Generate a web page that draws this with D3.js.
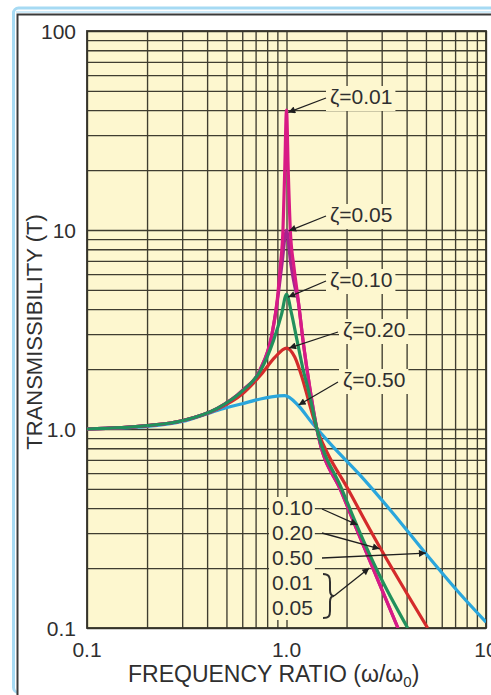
<!DOCTYPE html>
<html>
<head>
<meta charset="utf-8">
<script src="https://cdn.jsdelivr.net/npm/d3@7"></script>
<style>
  html, body { margin: 0; padding: 0; background: #ffffff; }
  svg { display: block; }
  text { font-family: "Liberation Sans", Arial, Helvetica, sans-serif; fill: #2f2f2f; }
</style>
</head>
<body>
<svg id="chart" width="491" height="695"></svg>
<script>
// Transmissibility curves: [frequency ratio ω/ω0, transmissibility T]
const dampingValues = ["0.01", "0.05", "0.10", "0.20", "0.50"];
const dampingLabels = ["ζ=0.01", "ζ=0.05", "ζ=0.10", "ζ=0.20", "ζ=0.50"];

const zeta001 = [[0.1, 1.0], [0.2, 1.04], [0.3, 1.1], [0.45, 1.27], [0.6, 1.56], [0.74, 2.0],
  [0.84, 2.9], [0.9, 4.5], [0.93, 6.5], [0.96, 10], [0.98, 20], [1.0, 40], [1.02, 20],
  [1.045, 10], [1.09, 6.5], [1.14, 4.6], [1.21, 2.78], [1.31, 1.6], [1.42, 1.0],
  [1.89, 0.48], [2.29, 0.3], [2.9, 0.17], [3.62, 0.1]];
const zeta005 = [[0.1, 1.0], [0.2, 1.04], [0.3, 1.1], [0.45, 1.27], [0.6, 1.56], [0.74, 2.0],
  [0.84, 2.9], [0.9, 4.4], [0.95, 6.8], [1.0, 10], [1.05, 6.8], [1.1, 5.2], [1.14, 4.5],
  [1.21, 2.78], [1.31, 1.6], [1.42, 1.0], [1.89, 0.48], [2.29, 0.3], [2.9, 0.17], [3.62, 0.1]];
const zeta010 = [[0.1, 1.0], [0.2, 1.04], [0.3, 1.1], [0.45, 1.27], [0.6, 1.55], [0.74, 1.96],
  [0.86, 2.78], [0.945, 3.78], [1.0, 4.75], [1.06, 3.8], [1.13, 2.78], [1.21, 2.0],
  [1.29, 1.56], [1.42, 1.0], [1.89, 0.5], [2.29, 0.315], [2.88, 0.19], [4.05, 0.1]];
const zeta020 = [[0.1, 1.0], [0.2, 1.04], [0.3, 1.1], [0.45, 1.26], [0.6, 1.5], [0.75, 1.89],
  [0.874, 2.29], [1.0, 2.55], [1.1, 2.3], [1.2, 1.8], [1.3, 1.35], [1.42, 1.0], [1.6, 0.76],
  [2.0, 0.514], [2.5, 0.34], [3.0, 0.245], [4.0, 0.15], [5.1, 0.1]];
const zeta050 = [[0.1, 1.0], [0.2, 1.03], [0.3, 1.09], [0.45, 1.24], [0.6, 1.34], [0.75, 1.42],
  [0.84, 1.45], [0.98, 1.47], [1.14, 1.32], [1.335, 1.08], [1.7, 0.82], [2.29, 0.6],
  [3.36, 0.385], [4.93, 0.24], [7.25, 0.152], [10, 0.107]];

const xTickValues = [0.1, 1, 10];
const xTickLabels = ["0.1", "1.0", "10"];
const yTickValues = [0.1, 1, 10, 100];
const yTickLabels = ["0.1", "1.0", "10", "100"];
const xTitle = "FREQUENCY RATIO (ω/ω";
const xTitleSub = "0";
const yTitle = "TRANSMISSIBILITY (T)";

// ---- layout ----
const svg = d3.select("#chart");
const plot = { left: 87, top: 31, right: 486, bottom: 628 };
const W = plot.right - plot.left, H = plot.bottom - plot.top;

const x = d3.scaleLog().domain([0.1, 10]).range([plot.left, plot.right]);
const y = d3.scaleLog().domain([0.1, 100]).range([plot.bottom, plot.top]);

const paper = "#fdf7cf";
const ink = "#2f2f2f";

// outer frame
svg.append("rect").attr("x", 13.5).attr("y", 8).attr("width", 500).attr("height", 684.5)
  .attr("rx", 5).attr("fill", "none").attr("stroke", "#a6daf3").attr("stroke-width", 3);
svg.append("line").attr("x1", 16).attr("x2", 491).attr("y1", 12).attr("y2", 12)
  .attr("stroke", "#bfe5f7").attr("stroke-width", 1.5);
svg.append("rect").attr("x", 17.5).attr("y", 14.5).attr("width", 500).attr("height", 700)
  .attr("fill", "#ffffff").attr("stroke", "#3a3a3a").attr("stroke-width", 2);

// plot background
svg.append("rect").attr("x", plot.left).attr("y", plot.top).attr("width", W).attr("height", H)
  .attr("fill", paper);

// log grid drawn with axes
const gridColor = "#3f3d30";
const gx = svg.append("g").attr("transform", `translate(0,${plot.bottom})`)
  .call(d3.axisBottom(x).tickValues(x.ticks()).tickSize(-H).tickFormat(""));
const gy = svg.append("g").attr("transform", `translate(${plot.left},0)`)
  .call(d3.axisLeft(y).tickValues(y.ticks()).tickSize(-W).tickFormat(""));
[gx, gy].forEach(g => {
  g.select(".domain").remove();
  g.selectAll(".tick line").attr("stroke", gridColor).attr("stroke-width", 1.35);
});

// plot border
svg.append("rect").attr("x", plot.left).attr("y", plot.top).attr("width", W).attr("height", H)
  .attr("fill", "none").attr("stroke", "#35332a").attr("stroke-width", 1.8);

// tick labels
svg.append("g").selectAll("text").data(yTickValues).join("text")
  .attr("x", plot.left - 11).attr("y", d => y(d)).attr("dy", "0.36em")
  .attr("text-anchor", "end").attr("font-size", 21)
  .text((d, i) => yTickLabels[i]);
svg.append("g").selectAll("text").data(xTickValues).join("text")
  .attr("x", d => x(d)).attr("y", 657)
  .attr("text-anchor", "middle").attr("font-size", 21)
  .text((d, i) => xTickLabels[i]);

// axis titles
const xt = svg.append("text").attr("x", 128).attr("y", 682).attr("font-size", 23);
xt.append("tspan").text(xTitle);
xt.append("tspan").attr("font-size", 15).attr("dy", 5).text(xTitleSub);
xt.append("tspan").attr("dy", -5).text(")");
svg.append("text").attr("transform", "translate(42,332) rotate(-90)")
  .attr("text-anchor", "middle").attr("font-size", 22).text(yTitle);

// curves
const series = [
  { key: "0.50", pts: zeta050, color: "#2aa6dc" },
  { key: "0.20", pts: zeta020, color: "#d42b2b" },
  { key: "0.05", pts: zeta005, color: "#a6238f" },
  { key: "0.01", pts: zeta001, color: "#d81a85" },
  { key: "0.10", pts: zeta010, color: "#22905c" }
];
svg.append("clipPath").attr("id", "plotClip").append("rect")
  .attr("x", plot.left).attr("y", plot.top).attr("width", W).attr("height", H);
const line = d3.line().x(d => x(d[0])).y(d => y(d[1])).curve(d3.curveMonotoneX);
svg.append("g").attr("clip-path", "url(#plotClip)")
  .selectAll("path").data(series).join("path")
  .attr("d", d => line(d.pts))
  .attr("fill", "none").attr("stroke", d => d.color)
  .attr("stroke-width", 3.2).attr("stroke-linejoin", "round");

// arrowhead
svg.append("defs").append("marker").attr("id", "arrow")
  .attr("viewBox", "0 0 10 10").attr("refX", 10).attr("refY", 5)
  .attr("markerWidth", 10).attr("markerHeight", 7).attr("markerUnits", "userSpaceOnUse")
  .attr("orient", "auto")
  .append("path").attr("d", "M0,0 L10,5 L0,10 Z").attr("fill", "#1f1f1f");

// peak annotations: label anchor (px), tail (px) and tip (data space)
const peakNotes = [
  { text: dampingLabels[0], tx: 330, ty: 104, tail: [326, 98],  tip: [1.02, 39] },
  { text: dampingLabels[1], tx: 330, ty: 222, tail: [326, 216], tip: [1.03, 9.9] },
  { text: dampingLabels[2], tx: 330, ty: 287, tail: [326, 281], tip: [1.02, 4.6] },
  { text: dampingLabels[3], tx: 343, ty: 337, tail: [338, 332], tip: [1.03, 2.55] },
  { text: dampingLabels[4], tx: 343, ty: 387, tail: [338, 382], tip: [1.15, 1.32] }
];
const notes = svg.append("g");
peakNotes.forEach(n => {
  const g = notes.append("g");
  const t = g.append("text").attr("x", n.tx).attr("y", n.ty).attr("font-size", 21).text(n.text);
  const b = t.node().getBBox();
  g.insert("rect", "text").attr("x", b.x - 4).attr("y", b.y + 1)
    .attr("width", b.width + 7).attr("height", b.height + 2).attr("fill", paper);
  notes.append("line").attr("x1", n.tail[0]).attr("y1", n.tail[1])
    .attr("x2", x(n.tip[0])).attr("y2", y(n.tip[1]))
    .attr("stroke", "#1f1f1f").attr("stroke-width", 1.3).attr("marker-end", "url(#arrow)");
});

// high-frequency annotations
const tailNotes = [
  { text: dampingValues[2], ty: 515, tail: [322, 509], tip: [2.27, 0.33] },
  { text: dampingValues[3], ty: 540, tail: [322, 533], tip: [2.93, 0.25] },
  { text: dampingValues[4], ty: 565, tail: [322, 558], tip: [5.0, 0.238] },
  { text: dampingValues[0], ty: 590, tail: null, tip: null },
  { text: dampingValues[1], ty: 615, tail: null, tip: null }
];
const tg = svg.append("g");
tg.selectAll("text").data(tailNotes).join("text")
  .attr("x", 272).attr("y", d => d.ty).attr("font-size", 21).text(d => d.text);
const tb = tg.node().getBBox();
tg.insert("rect", "text").attr("x", tb.x - 3).attr("y", tb.y + 1)
  .attr("width", tb.width + 5).attr("height", tb.height).attr("fill", paper);
tailNotes.filter(d => d.tail).forEach(n => {
  svg.append("line").attr("x1", n.tail[0]).attr("y1", n.tail[1])
    .attr("x2", x(n.tip[0])).attr("y2", y(n.tip[1]))
    .attr("stroke", "#1f1f1f").attr("stroke-width", 1.3).attr("marker-end", "url(#arrow)");
});
// brace grouping ζ=0.01 and ζ=0.05
svg.append("path")
  .attr("d", "M323,574 C329,574 330,577 330,582 L330,590 C330,594 331,596 334,596 C331,596 330,598 330,602 L330,611 C330,616 329,618 323,618")
  .attr("fill", "none").attr("stroke", ink).attr("stroke-width", 2);
svg.append("line").attr("x1", 334).attr("y1", 596).attr("x2", x(2.6)).attr("y2", y(0.2))
  .attr("stroke", "#1f1f1f").attr("stroke-width", 1.3).attr("marker-end", "url(#arrow)");
</script>
</body>
</html>
